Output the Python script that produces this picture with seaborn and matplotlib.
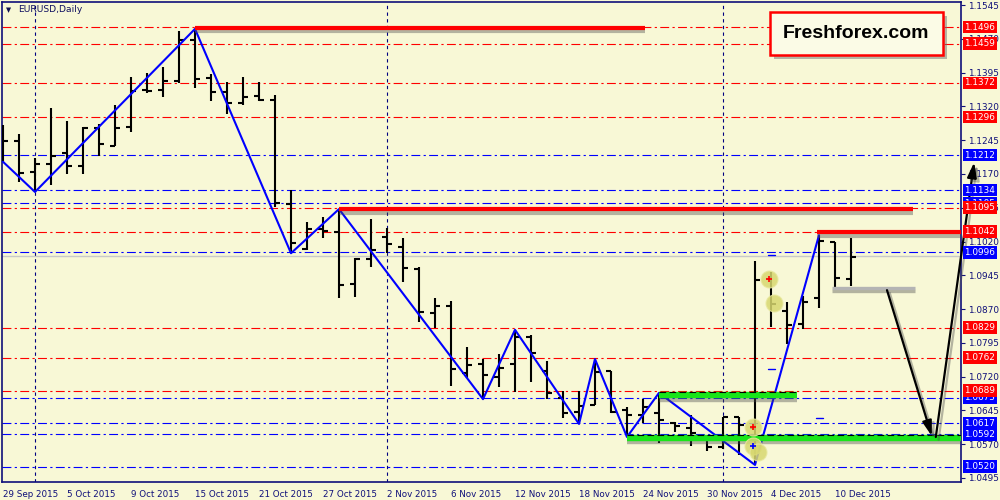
import numpy as np
import pandas as pd
import matplotlib
matplotlib.use("Agg")
import matplotlib.pyplot as plt
import matplotlib.patheffects as pe
import matplotlib.transforms as mtransforms
from matplotlib.patches import Rectangle
import seaborn as sns

# ---------------- data ----------------
dates = pd.bdate_range("2015-09-29", periods=54)
opens = [1.1223, 1.1243, 1.1174, 1.1192, 1.1216, 1.1188, 1.1272, 1.1232, 1.1274, 1.1356,
         1.1356, 1.1376, 1.1467, 1.1383, 1.1352, 1.1327, 1.1343, 1.1334, 1.1103, 1.1003,
         1.1048, 1.1041, 1.0926, 1.0981, 1.1030, 1.1008, 1.0959, 1.0861, 1.0877, 1.0728,
         1.0748, 1.0719, 1.0748, 1.0808, 1.0733, 1.0673, 1.0641, 1.0657, 1.0733, 1.0646,
         1.0635, 1.0639, 1.0617, 1.0606, 1.0586, 1.0564, 1.0630, 1.0606, 1.0937, 1.0866,
         1.0837, 1.0895, 1.1019, 1.0937]
highs = [1.1279, 1.1259, 1.1205, 1.1316, 1.1288, 1.1274, 1.1281, 1.1323, 1.1385, 1.1394,
         1.1407, 1.1487, 1.1492, 1.1392, 1.1374, 1.1385, 1.1374, 1.1345, 1.1134, 1.1063,
         1.1074, 1.1092, 1.0983, 1.1070, 1.1050, 1.1028, 1.0963, 1.0895, 1.0888, 1.0786,
         1.0759, 1.0770, 1.0824, 1.0812, 1.0755, 1.0688, 1.0688, 1.0759, 1.0733, 1.0653,
         1.0670, 1.0684, 1.0619, 1.0635, 1.0586, 1.0630, 1.0630, 1.0977, 1.0952, 1.0886,
         1.0899, 1.1034, 1.1019, 1.1028]
lows = [1.1197, 1.1152, 1.1130, 1.1145, 1.1170, 1.1170, 1.1210, 1.1232, 1.1263, 1.1350,
        1.1341, 1.1372, 1.1361, 1.1332, 1.1303, 1.1323, 1.1332, 1.1097, 1.0994, 1.1001,
        1.1028, 1.0895, 1.0897, 1.0963, 1.0994, 1.0930, 1.0841, 1.0828, 1.0699, 1.0717,
        1.0670, 1.0697, 1.0686, 1.0708, 1.0670, 1.0628, 1.0615, 1.0657, 1.0639, 1.0586,
        1.0617, 1.0573, 1.0597, 1.0566, 1.0555, 1.0559, 1.0546, 1.0524, 1.0830, 1.0792,
        1.0826, 1.0872, 1.0919, 1.0921]
closes = [1.1243, 1.1172, 1.1192, 1.1210, 1.1188, 1.1272, 1.1236, 1.1272, 1.1354, 1.1354,
          1.1376, 1.1467, 1.1381, 1.1352, 1.1327, 1.1341, 1.1334, 1.1105, 1.1017, 1.1048,
          1.1043, 1.0923, 1.0981, 1.1001, 1.1014, 1.0961, 1.0863, 1.0877, 1.0737, 1.0746,
          1.0724, 1.0739, 1.0808, 1.0772, 1.0684, 1.0639, 1.0655, 1.0730, 1.0641, 1.0635,
          1.0653, 1.0624, 1.0610, 1.0595, 1.0564, 1.0630, 1.0613, 1.0935, 1.0881, 1.0835,
          1.0886, 1.1021, 1.0939, 1.0986]

date_tick_labels = ["29 Sep 2015", "5 Oct 2015", "9 Oct 2015", "15 Oct 2015", "21 Oct 2015",
                    "27 Oct 2015", "2 Nov 2015", "6 Nov 2015", "12 Nov 2015", "18 Nov 2015",
                    "24 Nov 2015", "30 Nov 2015", "4 Dec 2015", "10 Dec 2015"]
price_ticks = [1.1545, 1.1470, 1.1395, 1.1320, 1.1245, 1.1170, 1.1095, 1.1020, 1.0945,
               1.0870, 1.0795, 1.0720, 1.0645, 1.0570, 1.0495]
red_levels = [1.1496, 1.1459, 1.1372, 1.1296, 1.1095, 1.1042, 1.0829, 1.0762, 1.0689]
blue_levels = [1.1212, 1.1134, 1.1105, 1.0996, 1.0673, 1.0617, 1.0592, 1.0520]
month_starts = ["2015-10-01", "2015-11-02", "2015-12-01"]

zigzag_dates = ["2015-09-29", "2015-10-01", "2015-10-15", "2015-10-23", "2015-10-28",
                "2015-11-10", "2015-11-12", "2015-11-18", "2015-11-19", "2015-11-23",
                "2015-11-25", "2015-12-03", "2015-12-09"]
zigzag_price = [1.1197, 1.1130, 1.1492, 1.0994, 1.1092, 1.0670, 1.0824, 1.0615, 1.0759,
                1.0586, 1.0684, 1.0524, 1.1034]

# resistance / support lines: (start index, end index, price)
red_lines = [(12, 40.1, 1.1494), (21, 56.9, 1.1092), (50.9, 60.5, 1.1040)]
green_lines = [(41, 49.6, 1.0679), (39, 60.5, 1.0584)]
gray_line = (51.8, 57.0, 1.0917)
bid_price = 1.0988
arrows = [((55.25, 1.0912), (58.05, 1.0588)), ((58.3, 1.0586), (60.7, 1.1196))]
circles_idx = [47.9, 48.2, 46.9, 46.9, 47.2]
circles_price = [1.0936, 1.0884, 1.0609, 1.0566, 1.0553]
trade_marks = [(48.0, 1.0989), (48.0, 1.0737), (51.0, 1.0628)]

# ---------------- style ----------------
BG = "#f8f8d6"
NAVY = "#10107a"
sns.set_style("white", rc={"axes.facecolor": BG, "figure.facecolor": BG,
                           "axes.edgecolor": NAVY})
plt.rcParams["font.family"] = ["DejaVu Sans"]

df = pd.DataFrame({"date": dates, "open": opens, "high": highs, "low": lows, "close": closes})
df["i"] = np.arange(len(df))
pos = {d.strftime("%Y-%m-%d"): i for i, d in enumerate(df["date"])}
labels_all = [f"{d.day} {d.strftime('%b %Y')}" for d in df["date"]]

fig = plt.figure(figsize=(10, 5), dpi=100)
ax = fig.add_axes([0.002, 0.036, 0.959, 0.96])

xmin, xmax = -0.0625, 59.875
ymax, ymin = 1.15517, 1.04861
ax.set_xlim(xmin, xmax)
ax.set_ylim(ymin, ymax)

# level lines
dashdot = (0, (8, 3, 2, 3))
for lv in red_levels:
    ax.axhline(lv, color="#ff0000", lw=0.8, ls=dashdot, zorder=1)
for lv in blue_levels:
    ax.axhline(lv, color="#0000ff", lw=0.8, ls=dashdot, zorder=1)
ax.axhline(bid_price, color="#c8c8c8", lw=1.0, zorder=1)
for m in month_starts:
    ax.axvline(pos[m], color="#000080", lw=0.8, ls=(0, (3, 3)), zorder=1)

# OHLC bars
tick = 0.31
ax.vlines(df["i"], df["low"], df["high"], color="black", lw=1.5, zorder=3)
ax.hlines(df["open"], df["i"] - tick, df["i"], color="black", lw=1.5, zorder=3)
ax.hlines(df["close"], df["i"], df["i"] + tick, color="black", lw=1.5, zorder=3)

# zigzag
zz = pd.DataFrame({"i": [pos[d] for d in zigzag_dates], "price": zigzag_price})
sns.lineplot(data=zz, x="i", y="price", color="#0000ff", lw=1.5, ax=ax, zorder=4,
             estimator=None, sort=False)

shadow = [pe.SimpleLineShadow(offset=(0, -2.5), shadow_color="0.3", alpha=0.4), pe.Normal()]

for x0, x1, p in red_lines:
    ax.plot([x0, x1], [p, p], color="#ff0000", lw=3.0, zorder=5, solid_capstyle="butt",
            path_effects=shadow, clip_on=True)
for x0, x1, p in green_lines:
    ax.plot([x0, x1], [p, p], color="#19e619", lw=4.6, zorder=5, solid_capstyle="butt",
            path_effects=shadow)
    ax.plot([x0, x1], [p + 0.00075, p + 0.00075], color="black", lw=0.8,
            ls=(0, (6, 3)), zorder=5)
gx0, gx1, gp = gray_line
ax.plot([gx0, gx1], [gp, gp], color="#b4b4b4", lw=2.4, zorder=5, solid_capstyle="butt",
        path_effects=shadow)

for (sx, sy), (ex, ey) in arrows:
    ax.annotate("", xy=(ex, ey), xytext=(sx, sy), annotation_clip=False, zorder=6,
                arrowprops=dict(arrowstyle="-|>,head_length=0.9,head_width=0.28", color="black",
                                lw=1.6, shrinkA=0, shrinkB=0,
                                path_effects=[pe.SimpleLineShadow(offset=(2, -2), shadow_color="0.3", alpha=0.4), pe.Normal()]))

ax.scatter(circles_idx, circles_price, s=150, color="#d8d870", alpha=0.85, edgecolors="#e8e8a0",
           linewidths=0.8, zorder=6)
ax.scatter([circles_idx[0], circles_idx[2]], [circles_price[0], circles_price[2]], s=14,
           marker="+", color="#ff0000", linewidths=1.2, zorder=7)
ax.scatter([circles_idx[3]], [circles_price[3]], s=14, marker="+", color="#0000ff",
           linewidths=1.2, zorder=7)
for tx, tp in trade_marks:
    ax.plot([tx - 0.2, tx + 0.25], [tp, tp], color="#0000ff", lw=1.0, zorder=6)

# axes, ticks
for s in ax.spines.values():
    s.set_color(NAVY)
    s.set_linewidth(1.2)
ax.yaxis.tick_right()
ax.set_yticks(price_ticks)
ax.set_yticklabels([f"{v:.4f}" for v in price_ticks])
ax.tick_params(axis="y", which="both", direction="out", length=3, width=0.8, color=NAVY,
               labelcolor=NAVY, labelsize=6.4, pad=2, left=False, right=True)
xt = [labels_all.index(l) for l in date_tick_labels]
ax.set_xticks(xt)
ax.set_xticklabels(date_tick_labels)
ax.tick_params(axis="x", direction="out", length=4, width=0.8, color=NAVY,
               labelcolor=NAVY, labelsize=6.3, pad=2)
for lab in ax.get_xticklabels():
    lab.set_ha("left")
ax.set_xlabel("")
ax.set_ylabel("")
ax.grid(False)

# level value boxes on the right scale
trans = mtransforms.blended_transform_factory(ax.transAxes, ax.transData)
for lv in blue_levels:
    ax.text(1.0035, lv, f"{lv:.4f}", transform=trans, ha="left", va="center", fontsize=6.4,
            color="white", clip_on=False, zorder=10,
            bbox=dict(boxstyle="square,pad=0.2", fc="#0000ff", ec="none"))
for lv in red_levels:
    ax.text(1.0035, lv, f"{lv:.4f}", transform=trans, ha="left", va="center", fontsize=6.4,
            color="white", clip_on=False, zorder=11,
            bbox=dict(boxstyle="square,pad=0.2", fc="#ff0000", ec="none"))

# title
fig.text(0.006, 1 - 10 / 500, "▼", fontsize=4.8, color="#101050", va="center")
fig.text(0.018, 1 - 10 / 500, "EURUSD,Daily", fontsize=6.6, color="#101060", va="center")

# Freshforex box
fig.patches.append(Rectangle((0.774, 1 - 59 / 500), 0.173, 0.086, transform=fig.transFigure,
                             fc="0.45", ec="none", alpha=0.5, zorder=20))
fig.patches.append(Rectangle((0.770, 1 - 55 / 500), 0.173, 0.086, transform=fig.transFigure,
                             fc="#fbfbe6", ec="#ff0000", lw=1.8, zorder=21))
fig.text(0.8565, 1 - 33 / 500, "Freshforex.com", fontsize=14, fontweight="bold",
         family="Liberation Sans", color="black", ha="center", va="center", zorder=22)

fig.savefig("out.png", dpi=100, facecolor=BG)
